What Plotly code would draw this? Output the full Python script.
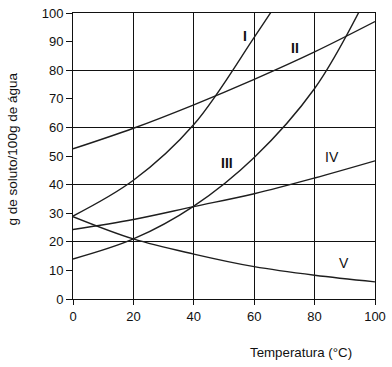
import plotly.graph_objects as go

# Data
temp_I = [0, 20, 40, 60, 66]
sol_I = [29, 41.5, 61, 91.5, 101]
temp_II = [0, 20, 40, 60, 80, 100]
sol_II = [52.5, 59.7, 67.9, 76.8, 86.4, 97]
temp_III = [0, 20, 40, 60, 80, 95]
sol_III = [14, 21, 32.5, 49.5, 73.6, 101]
temp_IV = [0, 20, 40, 60, 80, 100]
sol_IV = [24.3, 27.8, 32.3, 36.8, 42.3, 48.3]
temp_V = [0, 20, 40, 60, 80, 100]
sol_V = [28.8, 21, 15.7, 11.3, 8.3, 6.0]

label_text = ["I", "II", "III", "IV", "V"]
label_x = [57, 73.6, 51.1, 85.9, 89.7]
label_y = [91.8, 87.8, 47.5, 49.5, 12.5]
label_bold = [True, True, True, False, False]

x_ticks = [0, 20, 40, 60, 80, 100]
y_ticks = [0, 10, 20, 30, 40, 50, 60, 70, 80, 90, 100]

LINE = "#1e1e1e"
FONT = "Liberation Sans, Arial, sans-serif"

fig = go.Figure()
for xs, ys in [(temp_I, sol_I), (temp_II, sol_II), (temp_III, sol_III),
               (temp_IV, sol_IV), (temp_V, sol_V)]:
    fig.add_trace(go.Scatter(x=xs, y=ys, mode="lines",
                             line=dict(color=LINE, width=1.4, shape="spline", smoothing=1.0),
                             showlegend=False, hoverinfo="skip"))

# invisible trace on secondary axis for grid every 20
fig.add_trace(go.Scatter(x=[0, 100], y=[0, 100], yaxis="y2", mode="lines",
                         line=dict(width=0), showlegend=False, hoverinfo="skip"))

for t, x, y, b in zip(label_text, label_x, label_y, label_bold):
    fig.add_annotation(x=x, y=y, text=f"<b>{t}</b>" if b else t, showarrow=False,
                       font=dict(family=FONT, size=14, color="#111"))

fig.add_annotation(xref="paper", yref="paper", x=-0.201, y=0.524,
                   xanchor="center", yanchor="middle",
                   text="g de soluto/100g de água", textangle=-90, showarrow=False,
                   font=dict(family=FONT, size=13.5, color="#111"))
fig.add_annotation(xref="paper", yref="paper", x=0.755, y=-0.188,
                   xanchor="center", yanchor="middle",
                   text="Temperatura (°C)", showarrow=False,
                   font=dict(family=FONT, size=13.3, color="#111"))

fig.update_layout(
    width=392, height=367,
    margin=dict(l=73, r=15, t=6, b=68),
    paper_bgcolor="white", plot_bgcolor="white",
    xaxis=dict(range=[0, 100], tickvals=x_ticks, ticks="outside", ticklen=5,
               tickcolor="#111", showgrid=True, gridcolor="#111", gridwidth=1,
               showline=True, linecolor="#111", linewidth=1, mirror=True,
               zeroline=False, tickfont=dict(family=FONT, size=13, color="#111"),
               ticklabeloverflow="allow", fixedrange=True),
    yaxis=dict(range=[0, 100], tickvals=y_ticks, ticks="outside", ticklen=6,
               tickcolor="#111", showgrid=False,
               showline=True, linecolor="#111", linewidth=1, mirror=True,
               zeroline=False, tickfont=dict(family=FONT, size=13, color="#111"),
               ticklabeloverflow="allow", fixedrange=True),
    yaxis2=dict(range=[0, 100], overlaying="y", dtick=20, showgrid=True,
                gridcolor="#111", gridwidth=1, showticklabels=False, ticks="",
                zeroline=False, showline=False, fixedrange=True),
)

fig.write_html("out.html", config={"displayModeBar": False},
               post_script="document.body.style.margin='0';document.body.style.overflow='hidden';")
